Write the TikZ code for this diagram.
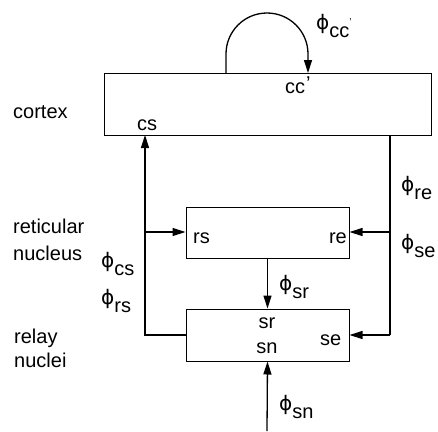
\documentclass[tikz,border=0pt]{standalone}
\usepackage{fontspec}
\setmainfont{Liberation Sans}
\newfontfamily\grk{DejaVu Sans}
\usetikzlibrary{arrows.meta}
\newcommand{\ph}[1]{{\grk ϕ}\raisebox{-0.42em}{#1}}
\begin{document}
\begin{tikzpicture}[x=1pt,y=-1pt,
  font=\fontsize{20}{24}\selectfont,
  box/.style={draw,line width=1pt,inner sep=0pt},
  con/.style={line width=1.3pt},
  arr/.style={con,-{Triangle[length=13pt,width=8pt]}},
  lbl/.style={inner sep=0pt,anchor=base west},
  phl/.style={inner sep=0pt,anchor=base west}]
\useasboundingbox (0,0) rectangle (438,431);
% boxes
\node[box,minimum width=327pt,minimum height=62pt] (cortex) at (267.5,104) {};
\node[box,minimum width=163pt,minimum height=51pt] (ret) at (267.5,232.5) {};
\node[box,minimum width=163pt,minimum height=52pt] (rel) at (267.5,335) {};
% coordinates
\coordinate (la) at (226,73);
\coordinate (lb) at (308,73);
\coordinate (cs) at (145,135);
\coordinate (cr) at (390,135);
\coordinate (lc) at (145,335);
\coordinate (rc) at (390,335);
\coordinate (lr) at (145,232);
\coordinate (rr) at (390,232);
\coordinate (sn) at (267,431);
% connectors
\draw[arr] (la) -- (226,54) arc[start angle=180,end angle=360,radius=41] -- (lb);
\draw[arr] (rel.west) -- (lc) -- (cs);
\draw[arr] (lr) -- (ret.west |- lr);
\draw[con] (cr) -- (rc);
\draw[arr] (rr) -- (ret.east |- rr);
\draw[arr] (rc) -- (rel.east);
\draw[arr] (ret.south) -- (rel.north);
\draw[arr] (sn) -- (rel.south);
% text labels
\node[lbl] (tcortex) at (13,118) {cortex};
\node[lbl] (tret) at (13,233) {reticular};
\node[lbl] (tnuc) at (13,260) {nucleus};
\node[lbl] (trelay) at (14,343) {relay};
\node[lbl] (tnuclei) at (14,367) {nuclei};
\node[lbl] (tcc) at (285,93) {cc};
\node[lbl] (tccp) at (306,90) {’};
\node[lbl] (tcs) at (137,130) {cs};
\node[lbl] (trs) at (193,243) {rs};
\node[lbl,anchor=base east] (tre) at (347,243) {re};
\node[lbl,anchor=base] (tsr) at (267,328) {sr};
\node[lbl,anchor=base] (tsn) at (267,353) {sn};
\node[lbl] (tse) at (320,345) {se};
% phi labels
\node[phl] (pcc) at (316,29) {\ph{cc\raisebox{0.6em}{\fontsize{10}{10}\selectfont ’}}};
\node[phl] (pre) at (401,191) {\ph{re}};
\node[phl] (pse) at (401,249) {\ph{se}};
\node[phl] (pcs) at (101,267) {\ph{cs}};
\node[phl] (prs) at (101,304) {\ph{rs}};
\node[phl] (psr) at (279,290) {\ph{sr}};
\node[phl] (psn) at (279,410) {\ph{sn}};
\end{tikzpicture}
\end{document}
